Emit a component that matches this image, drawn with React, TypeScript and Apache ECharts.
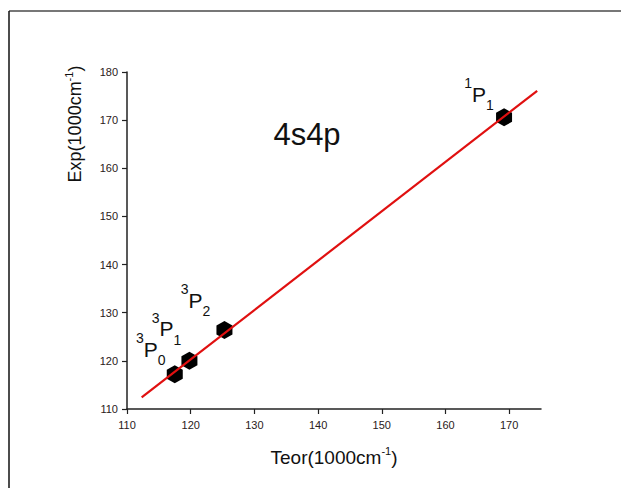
import React, { useEffect, useRef } from "react";
import * as echarts from "echarts";

// ---- data ----
const xTicks = [110, 120, 130, 140, 150, 160, 170];
const yTicks = [110, 120, 130, 140, 150, 160, 170, 180];
const teor = [117.5, 119.8, 125.3, 169.2];
const expv = [117.2, 120.0, 126.4, 170.6];
const termSup = ["3", "3", "3", "1"];
const termLetter = ["P", "P", "P", "P"];
const termSub = ["0", "1", "2", "1"];
const fitX = [112.3, 174.4];
const fitY = [112.4, 176.1];
const chartTitle = "4s4p";
const xName = ["Teor(1000cm", "-1", ")"];
const yName = ["Exp(1000cm", "-1", ")"];

// label offsets (styling)
const labelOffsets: [number, number][] = [
  [-24, -25],
  [-23, -32],
  [-29, -30],
  [-25, -23],
];

const FONT = "'Liberation Sans', Arial, sans-serif";
const HEX = "path://M8,0 L16,4.5 L16,13.5 L8,18 L0,13.5 L0,4.5 Z";

export default function App() {
  const ref = useRef<HTMLDivElement>(null);
  useEffect(() => {
    if (!ref.current) return;
    const chart = echarts.init(ref.current, undefined, { renderer: "svg" });
    const xRich = {
      n: { fontSize: 19, fontFamily: FONT, color: "#111", lineHeight: 24 },
      s: { fontSize: 11, fontFamily: FONT, color: "#111", lineHeight: 16, verticalAlign: "top" },
    };
    const yRich = {
      n: { fontSize: 18, fontFamily: FONT, fill: "#111", lineHeight: 24 },
      s: { fontSize: 11, fontFamily: FONT, fill: "#111", lineHeight: 16, verticalAlign: "top" },
    };
    const termRich = {
      sup: { fontSize: 14, fontFamily: FONT, color: "#111", lineHeight: 27, verticalAlign: "top" },
      p: { fontSize: 21, fontFamily: FONT, color: "#111", lineHeight: 36 },
      sub: { fontSize: 14, fontFamily: FONT, color: "#111", lineHeight: 15, verticalAlign: "bottom" },
    };
    chart.setOption({
      animation: false,
      backgroundColor: "#ffffff",
      grid: { left: 127, top: 72, right: 80, bottom: 79, containLabel: false },
      xAxis: {
        type: "value",
        min: 110,
        max: 175,
        interval: 10,
        name: `{n|${xName[0]}}{s|${xName[1]}}{n|${xName[2]}}`,
        nameLocation: "middle",
        nameGap: 36,
        nameTextStyle: { rich: xRich },
        axisLine: { show: true, lineStyle: { color: "#222", width: 1.5 } },
        axisTick: { show: true, inside: false, length: 5, lineStyle: { color: "#222", width: 1.2 }, customValues: xTicks },
        axisLabel: { fontSize: 11, fontFamily: FONT, color: "#2a2020", margin: 10, customValues: xTicks },
        splitLine: { show: false },
      },
      yAxis: {
        type: "value",
        min: 110,
        max: 180,
        interval: 10,
        axisLine: { show: true, lineStyle: { color: "#222", width: 1.5 } },
        axisTick: { show: true, inside: false, length: 5, lineStyle: { color: "#222", width: 1.2 }, customValues: yTicks },
        axisLabel: { fontSize: 11, fontFamily: FONT, color: "#2a2020", margin: 9, customValues: yTicks },
        splitLine: { show: false },
      },
      graphic: [
        { type: "line", shape: { x1: 9, y1: 11, x2: 621, y2: 11 }, style: { stroke: "#777", lineWidth: 2 } },
        { type: "line", shape: { x1: 9, y1: 11, x2: 9, y2: 488 }, style: { stroke: "#111", lineWidth: 1.5 } },
        {
          type: "text",
          x: 307,
          y: 134,
          style: {
            text: chartTitle,
            fontSize: 31,
            fontFamily: FONT,
            fill: "#111",
            align: "center",
            verticalAlign: "middle",
          },
        },
        {
          type: "text",
          x: 75,
          y: 124,
          rotation: Math.PI / 2,
          style: {
            text: `{n|${yName[0]}}{s|${yName[1]}}{n|${yName[2]}}`,
            rich: yRich,
            fill: "#111",
            align: "center",
            verticalAlign: "middle",
          },
        },
      ],
      series: [
        {
          type: "scatter",
          symbol: HEX,
          symbolSize: [16, 18],
          itemStyle: { color: "#000", opacity: 1 },
          z: 2,
          data: teor.map((x, i) => ({
            value: [x, expv[i]],
            label: {
              show: true,
              position: "inside",
              color: "#111",
              offset: labelOffsets[i],
              formatter: `{sup|${termSup[i]}}{p|${termLetter[i]}}{sub|${termSub[i]}}`,
              rich: termRich,
            },
          })),
        },
        {
          type: "line",
          data: fitX.map((x, i) => [x, fitY[i]]),
          showSymbol: false,
          symbol: "none",
          lineStyle: { color: "#e01010", width: 2.2 },
          z: 3,
        },
      ],
    });
    return () => chart.dispose();
  }, []);
  return <div ref={ref} style={{ width: 621, height: 488, position: "absolute", left: 0, top: 0 }} />;
}
